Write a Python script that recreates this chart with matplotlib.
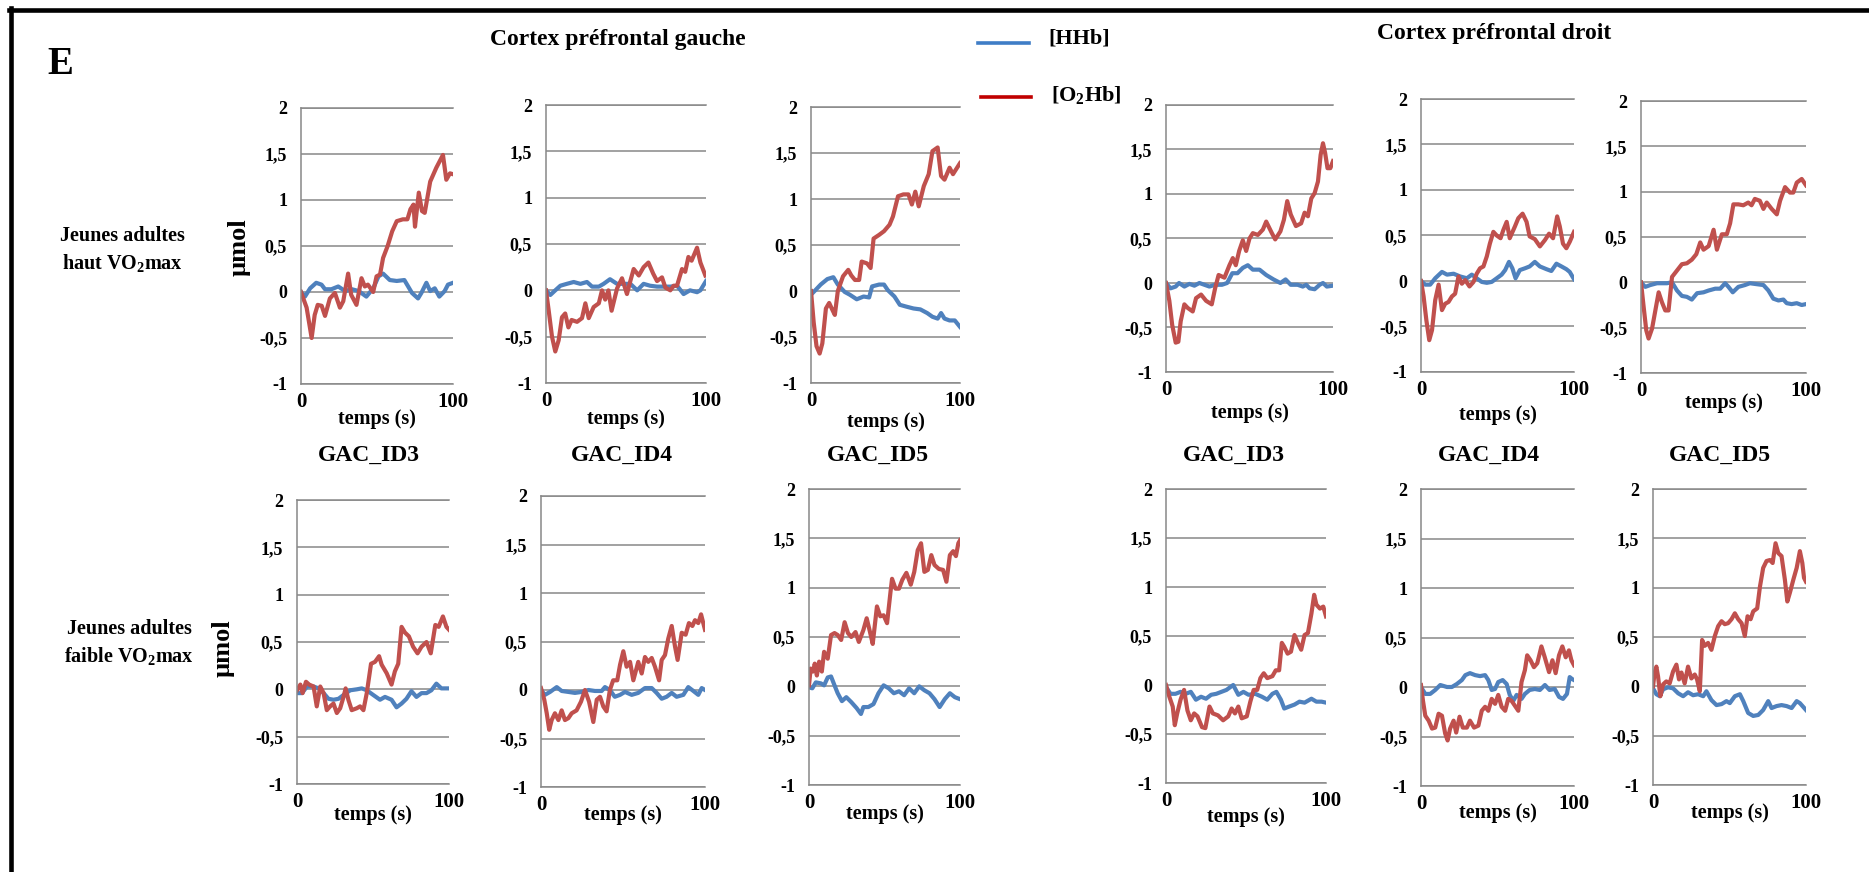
import numpy as np
import matplotlib
matplotlib.use("Agg")
import matplotlib.pyplot as plt
from matplotlib.lines import Line2D

# polices : serif gras partout (type Times)
plt.rcParams['font.family'] = ['Liberation Serif', 'DejaVu Serif']
plt.rcParams['font.weight'] = 'bold'
plt.rcParams['mathtext.fontset'] = 'custom'
plt.rcParams['mathtext.rm'] = 'Liberation Serif:bold'
plt.rcParams['mathtext.it'] = 'Liberation Serif:bold'
plt.rcParams['mathtext.bf'] = 'Liberation Serif:bold'

# ---- donnees (temps en s, valeurs en umol) ----
# rangee du haut : haut VO2max ; panneaux 1-3 gauche, 4-6 droit
p1_hhb_t = [0, 2.6, 6, 10, 13.5, 15.8, 20, 24.5, 29, 33.5, 38, 43, 47.5, 51, 54, 58.4, 63, 68, 73, 77, 79.2, 82.5, 85, 88, 91, 94.5, 96.7, 100]
p1_hhb_v = [0, -0.05, 0.04, 0.1, 0.08, 0.03, 0.03, 0.06, 0.01, 0.03, 0.01, -0.05, 0.04, 0.17, 0.2, 0.13, 0.12, 0.13, -0.01, -0.07, -0.01, 0.1, 0.01, 0.04, -0.05, 0.01, 0.08, 0.1]
p1_o2_t = [0, 3.7, 7, 9, 11, 13.6, 15.8, 19, 22.3, 25.6, 27.8, 31, 33, 36.5, 39.8, 42, 44, 47.5, 49.7, 52, 54, 57, 60, 63, 67, 70, 72, 74, 75, 77.5, 79.6, 81.4, 85, 89, 93.4, 95.6, 98, 100]
p1_o2_v = [0, -0.17, -0.5, -0.25, -0.14, -0.15, -0.26, -0.07, -0.01, -0.17, -0.1, 0.2, -0.03, -0.14, 0.15, 0.06, 0.08, 0, 0.17, 0.19, 0.37, 0.5, 0.66, 0.77, 0.79, 0.79, 0.9, 0.95, 0.71, 1.08, 0.88, 0.86, 1.2, 1.35, 1.49, 1.22, 1.29, 1.28]

p2_hhb_t = [0, 2.7, 5.8, 9, 13, 17.3, 21.5, 25.6, 28.8, 33, 36, 40, 44.4, 48.5, 52.7, 57, 61, 65, 69.4, 73.5, 77.7, 81.9, 86, 90, 94.4, 96.5, 100]
p2_hhb_v = [0, -0.05, 0, 0.05, 0.07, 0.09, 0.07, 0.09, 0.04, 0.04, 0.07, 0.12, 0.07, 0.07, 0.07, 0, 0.07, 0.05, 0.04, 0.04, 0.04, 0.05, -0.04, 0, -0.02, 0, 0.1]
p2_o2_t = [0, 1.7, 3.75, 5.8, 7.9, 10, 12, 14, 16, 19.4, 22.5, 24.6, 26.7, 29.8, 33, 35, 37, 39, 41, 44.4, 47.5, 50.6, 52.7, 54.8, 58, 61, 64, 67, 69.4, 72.5, 74.6, 77.7, 79.8, 81.9, 85, 87, 89, 91, 94.4, 96.5, 99.6]
p2_o2_v = [0, -0.22, -0.5, -0.66, -0.54, -0.29, -0.25, -0.4, -0.32, -0.34, -0.3, -0.14, -0.3, -0.18, -0.14, 0, -0.1, 0, -0.22, 0.02, 0.13, -0.04, 0.1, 0.23, 0.16, 0.25, 0.3, 0.18, 0.1, 0.14, 0.03, 0, 0.05, 0.05, 0.23, 0.2, 0.36, 0.32, 0.46, 0.3, 0.16]

p3_hhb_t = [0, 3, 6.5, 11, 15, 18, 22.6, 26, 30.7, 35.3, 39, 41, 45.7, 49, 51.5, 56, 59.6, 64, 68.8, 73.4, 78, 81.5, 85, 87.3, 89.6, 93, 96.5, 100]
p3_hhb_v = [-0.04, 0.01, 0.07, 0.13, 0.15, 0.07, -0.01, -0.04, -0.09, -0.06, -0.07, 0.05, 0.07, 0.07, 0.01, -0.06, -0.15, -0.17, -0.19, -0.2, -0.24, -0.28, -0.3, -0.24, -0.3, -0.32, -0.32, -0.39]
p3_o2_t = [0, 1.8, 3.7, 5.8, 7.6, 10, 12.2, 14.5, 16, 18, 21.5, 25, 27, 29.5, 32.3, 34, 37.6, 40, 42, 45.7, 49, 52.7, 55, 58.4, 62, 65.4, 67.7, 70, 72.3, 75.7, 79, 81.5, 85, 87.3, 89.6, 93, 95.3, 100]
p3_o2_v = [0, -0.34, -0.6, -0.68, -0.57, -0.19, -0.13, -0.21, -0.26, 0, 0.16, 0.23, 0.17, 0.12, 0.12, 0.32, 0.3, 0.25, 0.57, 0.61, 0.65, 0.72, 0.81, 1.03, 1.05, 1.05, 0.94, 1.08, 0.92, 1.14, 1.27, 1.52, 1.56, 1.25, 1.21, 1.34, 1.27, 1.39]

p4_hhb_t = [0, 2.7, 5.8, 7.8, 11, 14, 17, 20, 23, 26, 29.4, 33.5, 36.6, 39.7, 42.8, 46, 49, 52, 56, 60, 64.4, 68.5, 71.6, 74.7, 78.8, 81.9, 84, 86, 89, 92, 94, 96.3, 100]
p4_hhb_v = [0, -0.06, -0.04, 0, -0.04, -0.01, -0.03, 0, -0.02, -0.04, -0.02, -0.02, 0, 0.11, 0.11, 0.17, 0.2, 0.15, 0.15, 0.09, 0.04, 0, 0.04, -0.02, -0.02, -0.04, -0.02, -0.06, -0.07, -0.02, 0, -0.04, -0.03]
p4_o2_t = [0, 2, 3.7, 5.8, 7.4, 8.8, 11, 13, 16, 18, 21, 24, 27.4, 29.4, 31.5, 35, 38, 40, 41.8, 43.8, 46, 48, 50, 52, 55, 58, 60, 63.4, 65.4, 68.5, 70.6, 72.6, 74.7, 77.8, 80.9, 83, 85, 87, 89, 91, 92.6, 94, 95.3, 96.7, 98.4, 100]
p4_o2_v = [0, -0.2, -0.47, -0.67, -0.66, -0.43, -0.24, -0.28, -0.32, -0.17, -0.13, -0.2, -0.24, -0.06, 0.09, 0.06, 0.2, 0.28, 0.2, 0.36, 0.48, 0.36, 0.5, 0.56, 0.54, 0.6, 0.69, 0.56, 0.49, 0.58, 0.71, 0.92, 0.77, 0.64, 0.67, 0.79, 0.75, 0.95, 1.01, 1.14, 1.44, 1.57, 1.46, 1.29, 1.29, 1.37]

p5_hhb_t = [0, 2.8, 6, 9.3, 13.7, 17, 21.3, 25.6, 30, 33.2, 36.4, 39.7, 43, 46.2, 49.5, 52.7, 55, 57.5, 59.7, 61.8, 64.6, 68, 71, 74.4, 77.7, 82, 85.2, 88.5, 91.8, 95, 97.2, 100]
p5_hhb_v = [0, -0.04, -0.04, 0.03, 0.1, 0.07, 0.08, 0.05, 0.03, 0.07, 0.03, -0.01, -0.02, -0.01, 0.03, 0.07, 0.12, 0.21, 0.14, 0.03, 0.12, 0.14, 0.16, 0.21, 0.16, 0.13, 0.11, 0.19, 0.16, 0.13, 0.1, 0.02]
p5_o2_t = [0, 1.7, 3.5, 5.4, 7.2, 9.3, 11.5, 13.7, 15.8, 18, 20.2, 22.3, 24.5, 26.7, 28.9, 31.7, 34.3, 36.4, 38.6, 40.8, 43, 45, 47.3, 49.5, 52, 53.8, 56, 58, 61.4, 63.6, 66.4, 69, 71, 74.4, 77.7, 81, 83.7, 86.3, 89, 90.7, 92.8, 95, 97.2, 100]
p5_o2_v = [0, -0.17, -0.43, -0.65, -0.54, -0.21, -0.04, -0.32, -0.25, -0.23, -0.17, -0.14, 0.05, -0.03, 0.01, -0.06, -0.01, 0.08, 0.14, 0.16, 0.27, 0.41, 0.54, 0.5, 0.47, 0.56, 0.65, 0.47, 0.6, 0.69, 0.74, 0.65, 0.49, 0.46, 0.38, 0.45, 0.52, 0.47, 0.71, 0.6, 0.41, 0.36, 0.43, 0.54]

p6_hhb_t = [0, 2.6, 5.6, 9.7, 12.7, 15.7, 18.8, 21.8, 24.8, 27.8, 30.8, 34, 37.9, 41, 45, 48, 51, 53, 55.6, 59, 63, 66, 70, 74.2, 77.2, 80.2, 83.3, 86.3, 88.3, 91.3, 94.4, 97.4, 100]
p6_hhb_v = [0, -0.05, -0.03, -0.01, -0.01, -0.01, 0, -0.09, -0.15, -0.16, -0.19, -0.12, -0.11, -0.09, -0.07, -0.07, -0.01, -0.05, -0.11, -0.05, -0.03, -0.01, -0.02, -0.03, -0.09, -0.18, -0.2, -0.19, -0.23, -0.24, -0.23, -0.25, -0.24]
p6_o2_t = [0, 1.6, 3.2, 4.6, 6.7, 8.7, 10.7, 12.7, 14.7, 16.7, 18.8, 21.8, 24.8, 27.8, 30.8, 33.5, 35.9, 37.9, 41, 44, 46, 49, 52, 54, 56, 59, 62, 65, 67, 69, 72, 74.2, 76.2, 79.2, 82.3, 84.3, 87.3, 90.3, 92.3, 94.4, 97.4, 100]
p6_o2_v = [0, -0.27, -0.53, -0.62, -0.51, -0.31, -0.11, -0.22, -0.31, -0.31, 0.06, 0.13, 0.2, 0.21, 0.25, 0.31, 0.44, 0.36, 0.4, 0.58, 0.36, 0.53, 0.53, 0.65, 0.86, 0.86, 0.85, 0.88, 0.85, 0.92, 0.9, 0.81, 0.88, 0.81, 0.75, 0.9, 1.05, 0.99, 0.99, 1.1, 1.14, 1.07]

# rangee du bas : faible VO2max
p7_hhb_t = [0, 3.3, 6.6, 10.9, 14.2, 17.5, 20.7, 24, 27.3, 30.6, 35, 39.3, 42.6, 45.9, 50.2, 54.6, 57.9, 62.2, 65.5, 68.8, 72, 75.3, 78.6, 81.9, 85.2, 88.4, 91.7, 95, 97.2, 100]
p7_hhb_v = [-0.04, -0.04, 0.03, 0.03, 0.01, -0.04, -0.1, -0.11, -0.1, -0.06, -0.01, 0, 0.01, -0.01, -0.06, -0.11, -0.08, -0.11, -0.19, -0.15, -0.1, -0.02, -0.08, -0.04, -0.04, -0.01, 0.06, 0.01, 0.01, 0.01]
p7_o2_t = [0, 2.2, 3.7, 5.9, 8, 10.9, 13, 15.3, 17.5, 19.6, 21.8, 24, 26.2, 28.4, 30.6, 32, 33.8, 36, 39.3, 41.5, 43.7, 45.9, 48.7, 51.3, 54, 55.7, 59, 62.2, 64.4, 66.6, 68.8, 71, 73.6, 76.4, 79.3, 81.9, 85.2, 88, 91, 93.2, 96, 98.3, 100]
p7_o2_v = [-0.01, 0.05, -0.04, 0.08, 0.05, 0.03, -0.18, 0.03, -0.04, -0.22, -0.18, -0.15, -0.25, -0.2, -0.08, 0.01, -0.11, -0.22, -0.2, -0.18, -0.22, -0.04, 0.27, 0.29, 0.35, 0.26, 0.17, 0.05, 0.19, 0.27, 0.66, 0.6, 0.56, 0.45, 0.38, 0.45, 0.5, 0.38, 0.68, 0.66, 0.77, 0.66, 0.63]

p8_hhb_t = [0, 2.4, 5.5, 9.6, 12.6, 16.7, 20.7, 24.8, 28.9, 32.9, 37, 39, 42, 45, 48.2, 51.2, 55.3, 59.3, 63.4, 67.5, 70.5, 73.6, 76.6, 79.7, 82.7, 86.8, 89.8, 92.9, 95.9, 98, 100]
p8_hhb_v = [0, -0.05, -0.02, 0.03, -0.01, -0.02, -0.03, -0.02, 0, -0.01, -0.01, 0.03, 0, -0.07, -0.05, -0.02, -0.05, -0.03, 0.02, 0.02, -0.03, -0.09, -0.07, -0.03, -0.07, -0.05, 0.03, -0.01, -0.05, 0.02, 0]
p8_o2_t = [0, 2, 3.5, 5, 6.5, 8.5, 10.6, 12.6, 14.6, 16.7, 18.7, 21.7, 24.4, 26.8, 29.3, 31.9, 34, 36, 38, 40, 42, 44, 46.5, 48.2, 50.2, 52.2, 54.3, 56.3, 59.3, 61.4, 63.4, 65.4, 67.5, 69.5, 72, 73.6, 75.6, 77.6, 79.7, 81.7, 83.3, 85.8, 88.2, 90.2, 92.3, 93.9, 95.9, 97.6, 100]
p8_o2_v = [0.02, -0.1, -0.24, -0.41, -0.31, -0.24, -0.31, -0.21, -0.31, -0.29, -0.24, -0.21, -0.12, 0, -0.12, -0.33, -0.1, -0.07, -0.17, -0.22, 0, 0.1, 0.1, 0.26, 0.4, 0.24, 0.29, 0.1, 0.29, 0.17, 0.34, 0.29, 0.33, 0.24, 0.1, 0.31, 0.36, 0.53, 0.66, 0.45, 0.31, 0.59, 0.57, 0.69, 0.66, 0.72, 0.69, 0.78, 0.62]

p9_hhb_t = [0, 2.2, 4.5, 7.9, 10, 12.4, 14.6, 16.9, 19, 21.8, 24.7, 28, 31.5, 34.4, 36, 39.3, 42.7, 46, 49.4, 52.8, 56.2, 59.6, 63, 66.3, 69.7, 73, 76.4, 79.8, 83.1, 86.5, 89.9, 93.3, 96.6, 100]
p9_hhb_v = [-0.01, -0.02, 0.04, 0.03, 0.01, 0.09, 0.1, 0.01, -0.07, -0.15, -0.11, -0.16, -0.22, -0.28, -0.21, -0.21, -0.18, -0.07, 0.01, -0.02, -0.07, -0.05, -0.09, -0.02, -0.07, 0, -0.04, -0.07, -0.13, -0.21, -0.13, -0.07, -0.11, -0.13]
p9_o2_t = [0, 1.1, 2.7, 3.8, 5.2, 6.7, 8.5, 10, 12.4, 14.6, 16.9, 19, 21.3, 23.6, 25.8, 28, 30.8, 33, 36, 38.2, 40.4, 42.2, 45, 47.2, 49.4, 51.7, 54, 55, 57.3, 59.6, 61.8, 64.5, 67.4, 69.7, 72, 74.2, 76.4, 78.7, 81, 83.1, 86, 88.8, 91, 93.3, 95.5, 97.3, 98.9, 100]
p9_o2_v = [0.01, 0.18, 0.15, 0.23, 0.11, 0.25, 0.15, 0.35, 0.28, 0.52, 0.54, 0.52, 0.47, 0.65, 0.54, 0.5, 0.55, 0.45, 0.57, 0.69, 0.55, 0.43, 0.81, 0.71, 0.72, 0.64, 0.96, 1.09, 0.99, 0.99, 1.08, 1.15, 1.03, 1.16, 1.38, 1.45, 1.16, 1.18, 1.33, 1.23, 1.19, 1.18, 1.06, 1.33, 1.37, 1.32, 1.45, 1.48]

p10_hhb_t = [0, 2.8, 5.9, 9.1, 12.3, 15.5, 18.7, 21.9, 25, 28.2, 31.4, 34.6, 37.8, 42, 45.2, 48.4, 51.6, 55.8, 60, 63.3, 66.5, 69, 71.8, 73.9, 77, 80.3, 83.4, 86.6, 90.9, 94, 97.2, 100]
p10_hhb_v = [-0.02, -0.09, -0.09, -0.07, -0.09, -0.07, -0.15, -0.12, -0.14, -0.1, -0.09, -0.07, -0.05, 0, -0.1, -0.07, -0.1, -0.09, -0.12, -0.15, -0.09, -0.07, -0.15, -0.24, -0.22, -0.2, -0.17, -0.18, -0.14, -0.17, -0.17, -0.18]
p10_o2_t = [0, 2.1, 4.2, 5.5, 7, 9.1, 11.3, 13.4, 15.5, 17.6, 19.7, 22.5, 24.6, 27.2, 29.3, 32.5, 35.7, 38.9, 41, 43.1, 45.2, 47.3, 50.5, 52.7, 54.8, 57, 59, 61.1, 63.3, 66.5, 68.6, 70.7, 72.4, 73.9, 76, 78.1, 80.3, 82.4, 84.5, 86.6, 88.7, 90.9, 92.6, 94, 96.2, 98.3, 100]
p10_o2_v = [0, -0.12, -0.22, -0.41, -0.29, -0.15, -0.05, -0.26, -0.36, -0.29, -0.32, -0.43, -0.44, -0.22, -0.29, -0.31, -0.36, -0.32, -0.24, -0.29, -0.22, -0.34, -0.32, -0.17, -0.05, -0.05, 0.07, 0.12, 0.07, 0.09, 0.15, 0.15, 0.43, 0.39, 0.32, 0.34, 0.51, 0.43, 0.36, 0.51, 0.53, 0.73, 0.92, 0.82, 0.78, 0.8, 0.7]

p11_hhb_t = [0, 2.8, 6, 9.3, 12.6, 17, 20.2, 23.4, 26.7, 29, 32, 35.4, 38.6, 41.9, 44, 46.2, 48.4, 50.5, 53.4, 56, 58, 60.3, 62.5, 65.7, 67.9, 71, 74.4, 77.7, 81, 84, 87.4, 90.2, 92.8, 95.4, 97.2, 98.8, 100]
p11_hhb_v = [0, -0.07, -0.07, -0.03, 0.02, 0, 0, 0.03, 0.07, 0.12, 0.14, 0.12, 0.11, 0.12, 0.07, -0.03, -0.02, 0.05, 0.07, 0.03, -0.08, -0.14, -0.08, -0.12, -0.07, -0.03, -0.02, -0.03, 0.02, -0.03, -0.02, -0.1, -0.12, -0.07, 0.1, 0.08, 0.07]
p11_o2_t = [0, 1.3, 2.8, 5, 7.2, 9.3, 11.5, 13.7, 15.8, 17.4, 19, 21.3, 23, 25.2, 27.3, 30, 32, 34.7, 37.5, 39.7, 41.9, 44, 46.2, 48.4, 50.5, 52.7, 55, 57, 59.2, 61.4, 63.6, 65.7, 67.9, 69.4, 71.6, 73.8, 76, 78.7, 80.9, 83.7, 85.9, 88, 90.2, 92.4, 94.6, 96.7, 98.3, 100]
p11_o2_v = [0.02, -0.14, -0.29, -0.34, -0.42, -0.41, -0.27, -0.29, -0.47, -0.54, -0.42, -0.34, -0.46, -0.3, -0.41, -0.41, -0.34, -0.41, -0.39, -0.24, -0.2, -0.24, -0.12, -0.17, -0.08, -0.2, -0.24, -0.12, -0.14, -0.19, -0.24, 0.05, 0.17, 0.32, 0.27, 0.2, 0.24, 0.41, 0.3, 0.15, 0.27, 0.14, 0.32, 0.41, 0.3, 0.37, 0.27, 0.22]

p12_hhb_t = [0, 2.2, 4.4, 6.6, 9.8, 13.1, 16.4, 19.7, 22.9, 26.2, 29.5, 32.8, 34.9, 38.2, 41.5, 44.8, 48, 50.2, 53.5, 56.8, 59, 62.2, 65.5, 68.8, 72, 75.3, 77.5, 80.8, 84, 87.3, 90.6, 93.9, 96, 100]
p12_hhb_v = [-0.02, -0.08, -0.1, -0.03, -0.01, -0.02, -0.07, -0.1, -0.06, -0.09, -0.08, -0.1, -0.05, -0.14, -0.19, -0.18, -0.15, -0.17, -0.1, -0.08, -0.15, -0.27, -0.3, -0.29, -0.24, -0.15, -0.22, -0.2, -0.19, -0.2, -0.22, -0.15, -0.17, -0.24]
p12_o2_t = [0, 1.1, 2.2, 3.3, 4.8, 6.6, 8.7, 10.9, 13.1, 15.3, 17, 18.6, 20.7, 22.9, 25.1, 27.3, 28.8, 30.6, 32.1, 33.8, 36, 38.2, 40.4, 42.6, 44.8, 46.9, 49.1, 51.3, 53.5, 55.7, 57.9, 60, 61.8, 63.8, 65.5, 68.1, 69.9, 72, 74.2, 76.4, 78.2, 80.1, 81.9, 84, 86.2, 87.8, 89.5, 91.7, 93.9, 96, 97.6, 98.7, 100]
p12_o2_v = [0, 0.14, 0.2, 0.1, -0.1, 0.02, 0.05, 0.03, 0.15, 0.22, 0.07, 0.14, 0.03, 0.2, 0.08, 0.12, 0.07, -0.05, 0.47, 0.41, 0.44, 0.37, 0.51, 0.61, 0.66, 0.63, 0.64, 0.68, 0.74, 0.68, 0.64, 0.51, 0.71, 0.68, 0.76, 0.79, 1.01, 1.2, 1.27, 1.28, 1.25, 1.45, 1.35, 1.32, 1.08, 0.86, 0.95, 1.08, 1.2, 1.37, 1.25, 1.1, 1.06]

panneaux = [
    (p1_hhb_t, p1_hhb_v, p1_o2_t, p1_o2_v), (p2_hhb_t, p2_hhb_v, p2_o2_t, p2_o2_v),
    (p3_hhb_t, p3_hhb_v, p3_o2_t, p3_o2_v), (p4_hhb_t, p4_hhb_v, p4_o2_t, p4_o2_v),
    (p5_hhb_t, p5_hhb_v, p5_o2_t, p5_o2_v), (p6_hhb_t, p6_hhb_v, p6_o2_t, p6_o2_v),
    (p7_hhb_t, p7_hhb_v, p7_o2_t, p7_o2_v), (p8_hhb_t, p8_hhb_v, p8_o2_t, p8_o2_v),
    (p9_hhb_t, p9_hhb_v, p9_o2_t, p9_o2_v), (p10_hhb_t, p10_hhb_v, p10_o2_t, p10_o2_v),
    (p11_hhb_t, p11_hhb_v, p11_o2_t, p11_o2_v), (p12_hhb_t, p12_hhb_v, p12_o2_t, p12_o2_v),
]

yticks = [-1, -0.5, 0, 0.5, 1, 1.5, 2]
ytick_labels = ["-1", "-0,5", "0", "0,5", "1", "1,5", "2"]
xticks = [0, 100]
xtick_labels = ["0", "100"]
titres_id = ["GAC_ID3", "GAC_ID4", "GAC_ID5", "GAC_ID3", "GAC_ID4", "GAC_ID5"]

# ---- mise en page (pixels de l'image 1869x872) ----
W, H = 1869, 872
boites = [(301, 108, 453, 384), (546, 105, 706, 383), (811, 107, 960, 383),
          (1166, 105, 1333, 372), (1421, 99, 1574, 372), (1641, 101, 1806, 373),
          (297, 500, 449, 784), (541, 496, 705, 787), (809, 489, 960, 785),
          (1166, 489, 1326, 783), (1421, 489, 1574, 786), (1653, 489, 1806, 785)]
dist_xlabel = [35, 36, 39, 41, 43, 30, 31, 28, 29, 34, 27, 28]
pos_titres = [(369, 455), (622, 455), (878, 455), (1234, 455), (1489, 455), (1720, 455)]

BLEU = '#4F81BD'
ROUGE = '#C0504D'
GRIS = '#888888'

def fx(x):
    return x / W

def fy(y):
    return 1 - y / H

fig = plt.figure(figsize=(W / 100, H / 100), dpi=100)
fig.patch.set_facecolor('white')

for i, (x0, y0, x1, y1) in enumerate(boites):
    ax = fig.add_axes([fx(x0), fy(y1), (x1 - x0) / W, (y1 - y0) / H])
    th, vh, to, vo = panneaux[i]
    ax.plot(th, vh, color=BLEU, lw=3.0, solid_joinstyle='round')
    ax.plot(to, vo, color=ROUGE, lw=3.0, solid_joinstyle='round')
    ax.set_xlim(0, 100)
    ax.set_ylim(-1, 2)
    ax.set_yticks(yticks)
    ax.set_yticklabels(ytick_labels)
    ax.set_xticks(xticks)
    ax.set_xticklabels(xtick_labels)
    ax.tick_params(axis='y', length=0, pad=10, labelsize=13)
    ax.tick_params(axis='x', length=0, pad=6, labelsize=15)
    ax.grid(axis='y', color=GRIS, lw=1.1)
    ax.set_axisbelow(True)
    for s in ['top', 'bottom', 'left']:
        ax.spines[s].set_color(GRIS)
        ax.spines[s].set_linewidth(1.1)
    ax.spines['right'].set_visible(False)
    ax.set_xlabel("temps (s)", fontsize=14.5, fontweight='bold')
    ax.xaxis.set_label_coords(0.5, -dist_xlabel[i] / (y1 - y0))
    ax.xaxis.label.set_va('center')

# textes
fig.text(fx(60), fy(64), "E", fontsize=28, fontweight='bold', ha='center', va='center')
fig.text(fx(618), fy(40), "Cortex préfrontal gauche", fontsize=17, fontweight='bold', ha='center', va='center')
fig.text(fx(1494), fy(33), "Cortex préfrontal droit", fontsize=17, fontweight='bold', ha='center', va='center')
for (x, y), t in zip(pos_titres, titres_id):
    fig.text(fx(x), fy(y), t, fontsize=17, fontweight='bold', ha='center', va='center')

fig.text(fx(122), fy(250), "Jeunes adultes\nhaut VO$_2$max", fontsize=14.5, fontweight='bold',
         ha='center', va='center', linespacing=1.35)
fig.text(fx(129), fy(643), "Jeunes adultes\nfaible VO$_2$max", fontsize=14.5, fontweight='bold',
         ha='center', va='center', linespacing=1.35)
fig.text(fx(239), fy(247), "µmol", fontsize=19, fontweight='bold', rotation=90, ha='center', va='center')
fig.text(fx(223), fy(648), "µmol", fontsize=19, fontweight='bold', rotation=90, ha='center', va='center')

# legende
fig.add_artist(Line2D([fx(978), fx(1029)], [fy(43), fy(43)], color='#3F7DC6', lw=2.6))
fig.add_artist(Line2D([fx(981), fx(1031)], [fy(97), fy(97)], color='#C00000', lw=2.6))
fig.text(fx(1048), fy(39), "[HHb]", fontsize=16, fontweight='bold', ha='left', va='center')
fig.text(fx(1051), fy(95), "[O$_2$Hb]", fontsize=16, fontweight='bold', ha='left', va='center')

# cadre noir (haut et gauche)
fig.add_artist(Line2D([fx(9), fx(1869)], [fy(10), fy(10)], color='black', lw=3.3))
fig.add_artist(Line2D([fx(11), fx(11)], [fy(8), fy(872)], color='black', lw=3.3))

fig.savefig("out.png", dpi=100)
